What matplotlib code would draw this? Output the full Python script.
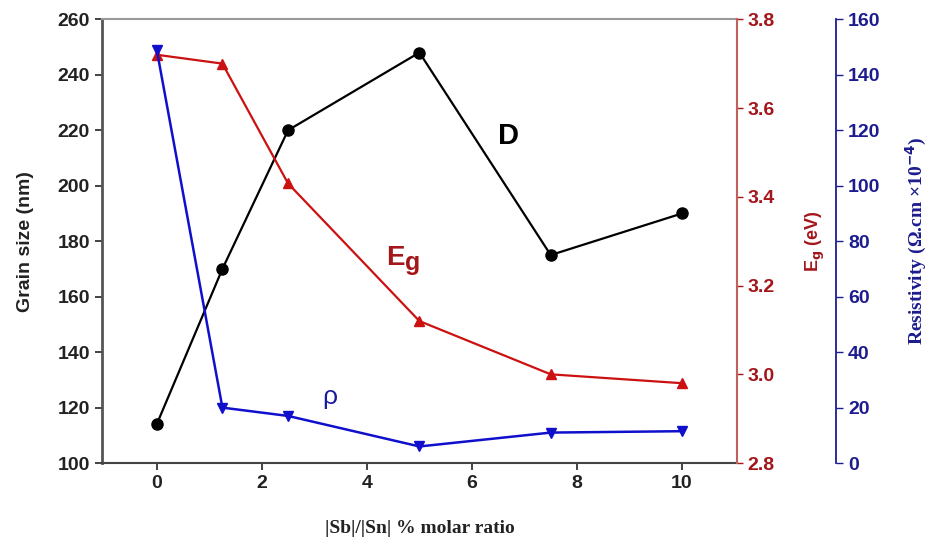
import matplotlib
matplotlib.use("Agg")
from matplotlib import pyplot as plt

# data
ratio = [0, 1.25, 2.5, 5, 7.5, 10]
grain = [114, 170, 220, 248, 175, 190]
eg = [3.72, 3.70, 3.43, 3.12, 3.00, 2.98]
rho = [149, 20, 17, 6, 11, 11.5]

xticks = [0, 2, 4, 6, 8, 10]
grain_ticks = [100, 120, 140, 160, 180, 200, 220, 240, 260]
eg_ticks = [2.8, 3.0, 3.2, 3.4, 3.6, 3.8]
rho_ticks = [0, 20, 40, 60, 80, 100, 120, 140, 160]

plt.rcParams['font.family'] = ['Liberation Sans', 'DejaVu Sans']

darkred = '#a3161a'
navy = '#1c1c8f'

fig = plt.figure(figsize=(9.32, 5.5), dpi=100)
ax = fig.add_axes([0.109, 0.158, 0.682, 0.807])
ax2 = ax.twinx()
ax3 = ax.twinx()
ax3.spines['right'].set_position(('axes', 1.156))

ax.plot(ratio, grain, '-o', color='black', lw=1.6, ms=8, zorder=3)
ax2.plot(ratio, eg, '-^', color='#cc1111', lw=1.6, ms=6.5)
ax3.plot(ratio, rho, '-v', color='#1010cc', lw=1.8, ms=7)

ax.set_xlim(-1.05, 11.05)
ax.set_ylim(100, 260)
ax2.set_ylim(2.8, 3.8)
ax3.set_ylim(0, 160)

ax.set_xticks(xticks)
ax.set_yticks(grain_ticks)
ax2.set_yticks(eg_ticks)
ax2.set_yticklabels(['%.1f' % v for v in eg_ticks])
ax3.set_yticks(rho_ticks)

ax.tick_params(axis='both', labelsize=14, width=1.2, length=5, colors='#222222')
ax2.tick_params(axis='y', labelsize=14, colors=darkred, width=1, length=4)
ax3.tick_params(axis='y', labelsize=14, colors=navy, width=1, length=5)
for a, c in ((ax, '#222222'), (ax2, darkred), (ax3, navy)):
    for lab in a.get_yticklabels():
        lab.set_fontweight('bold')
        lab.set_color(c)
for lab in ax.get_xticklabels():
    lab.set_fontweight('bold')

for a in (ax, ax2, ax3):
    for s in a.spines.values():
        s.set_visible(False)
ax.spines['left'].set_visible(True)
ax.spines['bottom'].set_visible(True)
ax.spines['top'].set_visible(True)
ax.spines['left'].set_color('#555555')
ax.spines['bottom'].set_color('#444444')
ax.spines['top'].set_color('#999999')
ax.spines['left'].set_linewidth(2)
ax.spines['bottom'].set_linewidth(1.5)
ax.spines['top'].set_linewidth(1.5)
ax2.spines['right'].set_visible(True)
ax2.spines['right'].set_color('#c0605a')
ax2.spines['right'].set_linewidth(1.5)
ax3.spines['right'].set_visible(True)
ax3.spines['right'].set_color(navy)
ax3.spines['right'].set_linewidth(1.3)

ax.set_ylabel('Grain size (nm)', fontsize=14, fontweight='bold', color='#222222', labelpad=17)
ax2.set_ylabel('E$_\\mathbf{g}$ (eV)', fontsize=13, fontweight='bold', color=darkred, labelpad=21)
ax3.set_ylabel('Resistivity (Ω.cm ×10$^{\\mathbf{-4}}$)', fontsize=14, fontweight='bold',
               color=navy, family=['Liberation Serif', 'DejaVu Serif'], labelpad=17)
ax.set_xlabel('|Sb|/|Sn| % molar ratio', fontsize=14, fontweight='bold', color='#222222',
              family=['Liberation Serif', 'DejaVu Serif'], labelpad=20)

ax.text(6.7, 218, 'D', fontsize=21, fontweight='bold', color='black', ha='center', va='center')
ax.text(4.72, 174, 'E', fontsize=20, fontweight='bold', color=darkred, ha='right', va='center')
ax.text(4.72, 172, 'g', fontsize=18, fontweight='bold', color=darkred, ha='left', va='center')
ax.text(3.3, 124, 'ρ', fontsize=19, color='#1a1aa0', ha='center', va='center')

fig.savefig('out.png', dpi=100)
